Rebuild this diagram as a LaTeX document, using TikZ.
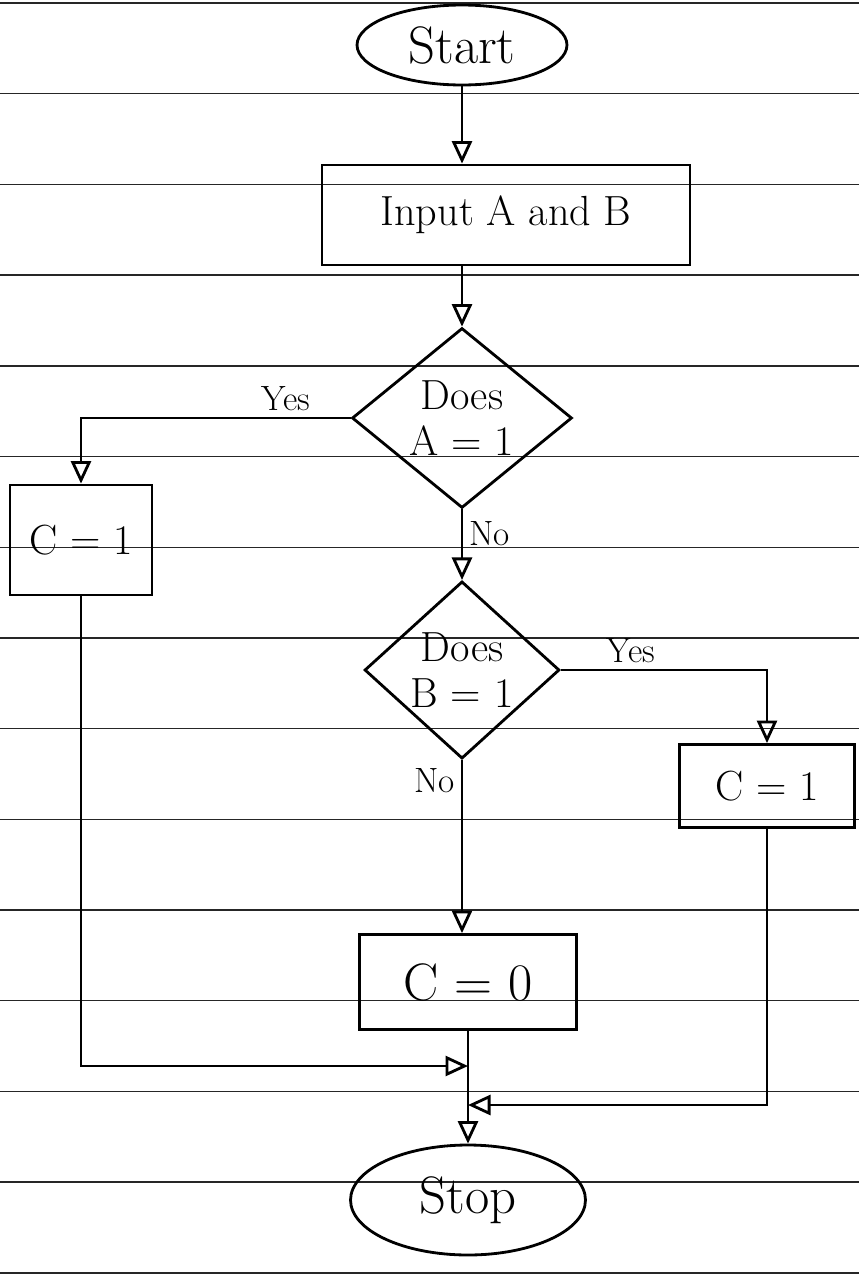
\documentclass[tikz,border=0pt]{standalone}
\usetikzlibrary{shapes.geometric,arrows.meta}
\begin{document}
\begin{tikzpicture}[x=0.02cm,y=-0.02cm,
  paper/.style={line width=0.8pt,black!85},
  shp/.style={draw,line width=1.6pt,align=center,inner sep=2pt},
  term/.style={shp,ellipse},
  boxx/.style={shp,rectangle},
  dec/.style={shp,diamond},
  conn/.style={line width=1.6pt},
  arr/.style={conn,-{Triangle[open,length=0.45cm,width=0.4cm,line width=1.6pt]}},
  lbl/.style={font=\fontsize{20}{24}\selectfont}
]
\useasboundingbox (0,0) rectangle (859,1275);
% ruled paper
\foreach \k in {0,...,14} {
  \draw[paper] (0,{3+90.7*\k}) -- (859,{3+90.7*\k});
}
% nodes
\node[term,minimum width=4.2cm,minimum height=1.6cm,font=\fontsize{30}{34}\selectfont] (start) at (462,45) {Start};
\node[boxx,minimum width=7.36cm,minimum height=2cm,font=\fontsize{24}{28}\selectfont] (input) at (506,215) {Input A and B};
\node[dec,minimum width=4.4cm,minimum height=3.6cm,inner sep=0pt,font=\fontsize{24}{26}\selectfont] (d1) at (462,418) {Does\\A = 1};
\node[boxx,minimum width=2.84cm,minimum height=2.2cm,font=\fontsize{24}{28}\selectfont] (c1) at (81,540) {C = 1};
\node[dec,minimum width=3.9cm,minimum height=3.2cm,inner sep=0pt,font=\fontsize{24}{26}\selectfont] (d2) at (462,670) {Does\\B = 1};
\node[boxx,minimum width=3.5cm,minimum height=1.66cm,font=\fontsize{24}{28}\selectfont] (c1r) at (767,786) {C = 1};
\node[boxx,minimum width=4.34cm,minimum height=1.9cm,font=\fontsize{30}{34}\selectfont] (c0) at (468,982) {C = 0};
\node[term,minimum width=4.7cm,minimum height=2.2cm,font=\fontsize{30}{34}\selectfont] (stop) at (468,1200) {Stop};
% junction points
\coordinate (j1) at (468,1066);
\coordinate (j2) at (468,1105);
% connectors
\draw[arr] (start.south) -- (start.south |- input.north);
\draw[arr] (d1.north |- input.south) -- (d1.north);
\draw[arr] (d1.west) -| (c1.north) node[pos=0.12,above,lbl] {Yes};
\draw[arr] (d1.south) -- (d2.north) node[pos=0.35,right,lbl] {No};
\draw[arr] (d2.east) -| (c1r.north) node[pos=0.17,above,lbl] {Yes};
\draw[arr] (d2.south) -- (d2.south |- c0.north) node[pos=0.12,left,lbl] {No};
\draw[arr] (c0.south) -- (stop.north);
\draw[arr] (c1.south) |- (j1);
\draw[arr] (c1r.south) |- (j2);
\end{tikzpicture}
\end{document}
